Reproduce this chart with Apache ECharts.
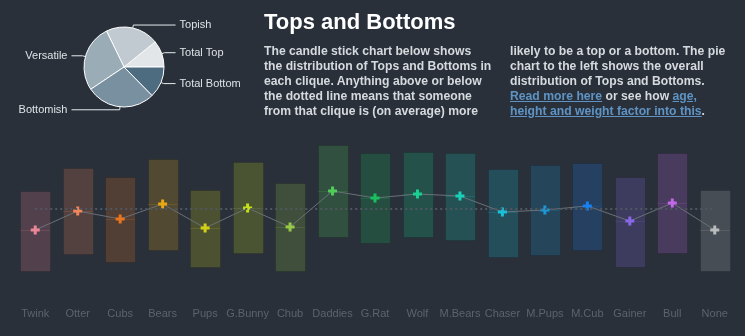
<!DOCTYPE html>
<html lang="en">
<head>
    <meta charset="UTF-8">
    <title>Tops and Bottoms</title>
    <style>
        body { margin: 0; background: #29303a; }
        #wrap { position: relative; width: 745px; height: 336px; overflow: hidden; }
        #main { position: absolute; left: 0; top: 0; width: 745px; height: 336px; }
        .txt { position: absolute; font-family: 'Liberation Sans', Arial, Helvetica, sans-serif; color: #d6dade; }
        #title { left: 264px; top: 9px; font-size: 22px; line-height: 26px; font-weight: bold; color: #ffffff; }
        .col { top: 44px; font-size: 12.2px; line-height: 15px; font-weight: bold; white-space: nowrap; }
        #col1 { left: 264px; }
        #col2 { left: 510px; }
        .col a { color: #5f93c4; text-decoration: underline; }
    </style>
</head>
<body>
<div id="wrap">
    <div id="main"></div>
    <div class="txt" id="title">Tops and Bottoms</div>
    <div class="txt col" id="col1">
        The candle stick chart below shows<br>
        the distribution of Tops and Bottoms in<br>
        each clique. Anything above or below<br>
        the dotted line means that someone<br>
        from that clique is (on average) more
    </div>
    <div class="txt col" id="col2">
        likely to be a top or a bottom. The pie<br>
        chart to the left shows the overall<br>
        distribution of Tops and Bottoms.<br>
        <a href="#">Read more here</a> or see how <a href="#">age,</a><br>
        <a href="#">height and weight factor into this</a>.
    </div>
</div>
<script src="https://cdn.jsdelivr.net/npm/echarts@6/dist/echarts.min.js"></script>
<script>
    // cliques, box range (high / low) and average (0 = dotted line)
    var cliques = ['Twink', 'Otter', 'Cubs', 'Bears', 'Pups', 'G.Bunny', 'Chub', 'Daddies', 'G.Rat',
        'Wolf', 'M.Bears', 'Chaser', 'M.Pups', 'M.Cub', 'Gainer', 'Bull', 'None'];
    var highs = [18, 41, 32, 50, 19, 47, 26, 64, 56, 57, 56, 40, 44, 46, 32, 56, 19];
    var lows = [-62, -45, -53, -41, -58, -44, -62, -28, -34, -28, -31, -48, -46, -41, -58, -44, -62];
    var means = [-21, -2, -10, 5, -19, 1, -18, 18, 11, 15, 13, -3, -1, 3, -12, 6, -21];

    // overall split for the pie
    var pieNames = ['Total Top', 'Topish', 'Versatile', 'Bottomish', 'Total Bottom'];
    var pieValues = [10.8, 21.4, 27.2, 28.0, 12.6];

    var cliqueColors = ['#ea8696', '#f0865a', '#e87520', '#e8a815', '#d2d015', '#c4e018', '#98c848',
        '#50cc58', '#18c060', '#18d090', '#18d0b8', '#18c0d8', '#1898d8', '#1880f0', '#8868e8', '#c068e8', '#b8bcbc'];
    var pieColors = ['#e2e6e8', '#c0cad0', '#9aacb6', '#7890a0', '#4e6c80'];

    function rgba(hex, a) {
        var n = parseInt(hex.slice(1), 16);
        return 'rgba(' + (n >> 16) + ',' + ((n >> 8) & 255) + ',' + (n & 255) + ',' + a + ')';
    }

    var boxData = [];
    for (var i = 0; i < cliques.length; i++) {
        boxData.push([i, highs[i], lows[i], means[i]]);
    }

    var pieData = [];
    for (var j = 0; j < pieNames.length; j++) {
        pieData.push({ name: pieNames[j], value: pieValues[j], itemStyle: { color: pieColors[j] } });
    }

    function renderBox(params, api) {
        var idx = api.value(0);
        var x = api.coord([idx, 0])[0];
        var top = api.coord([idx, api.value(1)])[1];
        var bot = api.coord([idx, api.value(2)])[1];
        var mid = api.coord([idx, api.value(3)])[1];
        var w = api.size([1, 0])[0] * 0.7;
        var c = cliqueColors[params.dataIndex];
        return {
            type: 'group',
            children: [
                {
                    type: 'rect',
                    shape: { x: Math.round(x - w / 2) + 0.5, y: Math.round(top) + 0.5, width: Math.round(w), height: Math.round(bot - top) },
                    style: { fill: rgba(c, 0.21), stroke: 'rgba(0,0,0,0.12)', lineWidth: 1 }
                },
                {
                    type: 'line',
                    shape: { x1: x - w / 2, y1: Math.round(mid) + 0.5, x2: x + w / 2, y2: Math.round(mid) + 0.5 },
                    style: { stroke: rgba(c, 0.16), lineWidth: 1 }
                }
            ]
        };
    }

    var myChart = echarts.init(document.getElementById('main'));

    var option = {
        backgroundColor: '#29303a',
        animation: false,
        grid: { left: 14, right: 9, top: 139, height: 150 },
        xAxis: {
            type: 'category',
            data: cliques,
            axisLine: { show: false },
            axisTick: { show: false },
            axisLabel: { interval: 0, color: '#5d636a', fontSize: 11, margin: 19, fontFamily: 'Liberation Sans, Arial, sans-serif' },
            splitLine: { show: false }
        },
        yAxis: { type: 'value', min: -80, max: 70, show: false },
        series: [
            {
                type: 'pie',
                center: [124, 67],
                radius: 40,
                startAngle: 0,
                clockwise: false,
                avoidLabelOverlap: true,
                itemStyle: { borderColor: '#ffffff', borderWidth: 1 },
                label: {
                    color: '#dfe3e6', fontSize: 11, fontFamily: 'Liberation Sans, Arial, sans-serif',
                    alignTo: 'labelLine', distanceToLabelLine: 4
                },
                labelLine: { length: 3, length2: 11, lineStyle: { color: '#e6eaec', width: 1 } },
                emphasis: { disabled: true },
                data: pieData
            },
            {
                type: 'custom',
                renderItem: renderBox,
                data: boxData,
                z: 1
            },
            {
                type: 'line',
                data: means,
                z: 3,
                symbol: 'path://M3,0h3v3h3v3h-3v3h-3v-3h-3v-3h3z',
                symbolSize: 9,
                lineStyle: { color: '#6a7077', width: 1 },
                itemStyle: {
                    color: function (p) { return cliqueColors[p.dataIndex]; }
                },
                markLine: {
                    silent: true,
                    symbol: 'none',
                    label: { show: false },
                    lineStyle: { color: '#4f565f', type: [2, 3], width: 2 },
                    data: [[{ coord: [0, 0] }, { coord: [cliques.length - 1, 0] }]]
                }
            }
        ]
    };

    myChart.setOption(option);
</script>
</body>
</html>
